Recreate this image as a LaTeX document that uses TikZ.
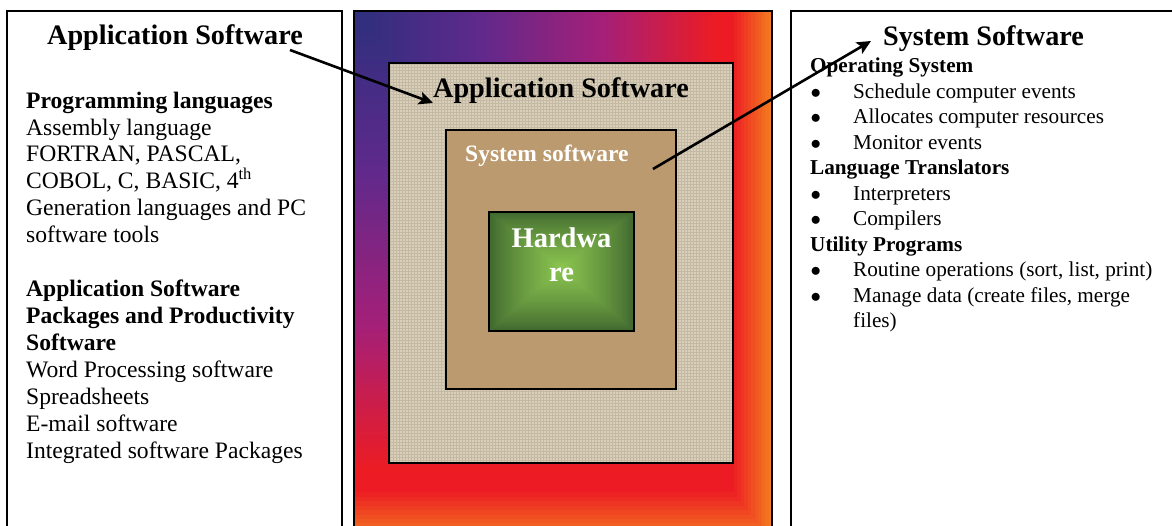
\documentclass[tikz,border=0pt]{standalone}
\usepackage{fontspec}
\setmainfont{Liberation Serif}
\usetikzlibrary{arrows.meta,patterns}
\definecolor{linen}{RGB}{217,207,187}
\definecolor{linenline}{RGB}{196,185,163}
\definecolor{paper}{RGB}{188,154,111}
\definecolor{hwdark}{RGB}{62,102,46}
\definecolor{hwlight}{RGB}{140,198,80}
\newcommand{\blt}{\makebox[43pt][l]{\hspace*{0.5pt}$\bullet$}}
\begin{document}
\begin{tikzpicture}[x=1pt,y=-1pt,
  declare function={cl(\v)=max(0,min(1,\v));},
  frame/.style={draw=black,line width=1.3pt,anchor=north west,inner sep=0,outer sep=0},
  title/.style={anchor=base west,inner sep=0,font=\fontsize{28.2pt}{32pt}\selectfont\bfseries},
  conn/.style={-{Stealth[length=14pt,width=13pt,inset=3pt]},line width=2.6pt,black}]
\useasboundingbox (0,0) rectangle (1172,526);
\clip (0,0) rectangle (1172,526);
\fill[white] (0,0) rectangle (1172,526);
% left box
\node[frame,minimum width=335pt,minimum height=540pt] (lbox) at (7,11) {};
% right box
\node[frame,minimum width=400pt,minimum height=540pt] (rbox) at (791,11) {};
% middle gradient frame
\foreach \i in {0,...,120}{
  \pgfmathsetmacro\t{1-\i/120}
  \pgfmathtruncatemacro\R{45+50*cl(\t/0.3)+70*cl((\t-0.3)/0.3)+72*cl((\t-0.6)/0.27)+7*cl((\t-0.91)/0.09)}
  \pgfmathtruncatemacro\G{48-6*cl(\t/0.3)-10*cl((\t-0.3)/0.3)-4*cl((\t-0.6)/0.27)+95*cl((\t-0.91)/0.09)}
  \pgfmathtruncatemacro\B{125+15*cl(\t/0.3)-20*cl((\t-0.3)/0.3)-84*cl((\t-0.6)/0.27)-4*cl((\t-0.91)/0.09)}
  \definecolor{gc}{RGB}{\R,\G,\B}
  \fill[gc] (354,11) rectangle ({354+418*\t},{11+530*\t});
}
\node[frame,minimum width=418pt,minimum height=540pt] (mbox) at (354,11) {};
% application software (linen)
\node[frame,preaction={fill=linen},pattern=grid,pattern color=linenline,
  minimum width=344pt,minimum height=400pt] (appbox) at (389,63) {};
% system software (paper)
\node[frame,fill=paper,minimum width=230pt,minimum height=259pt] (sysbox) at (446,130) {};
% hardware (green rectangular gradient)
\foreach \i in {0,...,60}{
  \pgfmathsetmacro\t{1-\i/60}
  \pgfmathsetmacro\p{100*(1-\t)^0.8}
  \fill[hwlight!\p!hwdark] ({561.5-72.5*\t},{268-56*\t}) rectangle ({561.5+72.5*\t},{268+63*\t});
}
\node[frame,minimum width=145pt,minimum height=119pt] (hwbox) at (489,212) {};
% titles
\node[title] (ltitle) at (47,45) {Application Software};
\node[title] (rtitle) at (883,46) {System Software};
\node[title] (mtitle) at (433,98) {Application Software};
\node[anchor=base west,inner sep=0,text=white,font=\fontsize{23.5pt}{28pt}\selectfont\bfseries] (stitle) at (465,162) {System software};
% base anchor of a multi-line node = baseline of its last line
\node[anchor=base,inner sep=0,text=white,align=center,font=\fontsize{28.5pt}{34pt}\selectfont\bfseries] (hwtext) at (561.5,282) {Hardwa\\re};
% left text
\node[anchor=base west,inner sep=0,align=left,font=\fontsize{23.6pt}{26.95pt}\selectfont] (ltext) at (26,458.4) {%
\textbf{Programming languages}\\
Assembly language\\
FORTRAN, PASCAL,\\
COBOL, C, BASIC, 4\textsuperscript{th}\\
Generation languages and PC\\
software tools\\[26.95pt]
\textbf{Application Software}\\
\textbf{Packages and Productivity}\\
\textbf{Software}\\
Word Processing software\\
Spreadsheets\\
E-mail software\\
Integrated software Packages};
% right text
\node[anchor=base west,inner sep=0,align=left,font=\fontsize{21.2pt}{25.45pt}\selectfont] (rtext) at (810,327.5) {%
\textbf{Operating System}\\
\blt Schedule computer events\\
\blt Allocates computer resources\\
\blt Monitor events\\
\textbf{Language Translators}\\
\blt Interpreters\\
\blt Compilers\\
\textbf{Utility Programs}\\
\blt Routine operations (sort, list, print)\\
\blt Manage data (create files, merge\\
\hspace*{43pt}files)};
% arrows
\coordinate (a1s) at (290,50);
\coordinate (a1e) at (433,103);
\coordinate (a2s) at (653,169);
\coordinate (a2e) at (871,41);
\draw[conn] (a1s) -- (a1e);
\draw[conn] (a2s) -- (a2e);
\end{tikzpicture}
\end{document}
